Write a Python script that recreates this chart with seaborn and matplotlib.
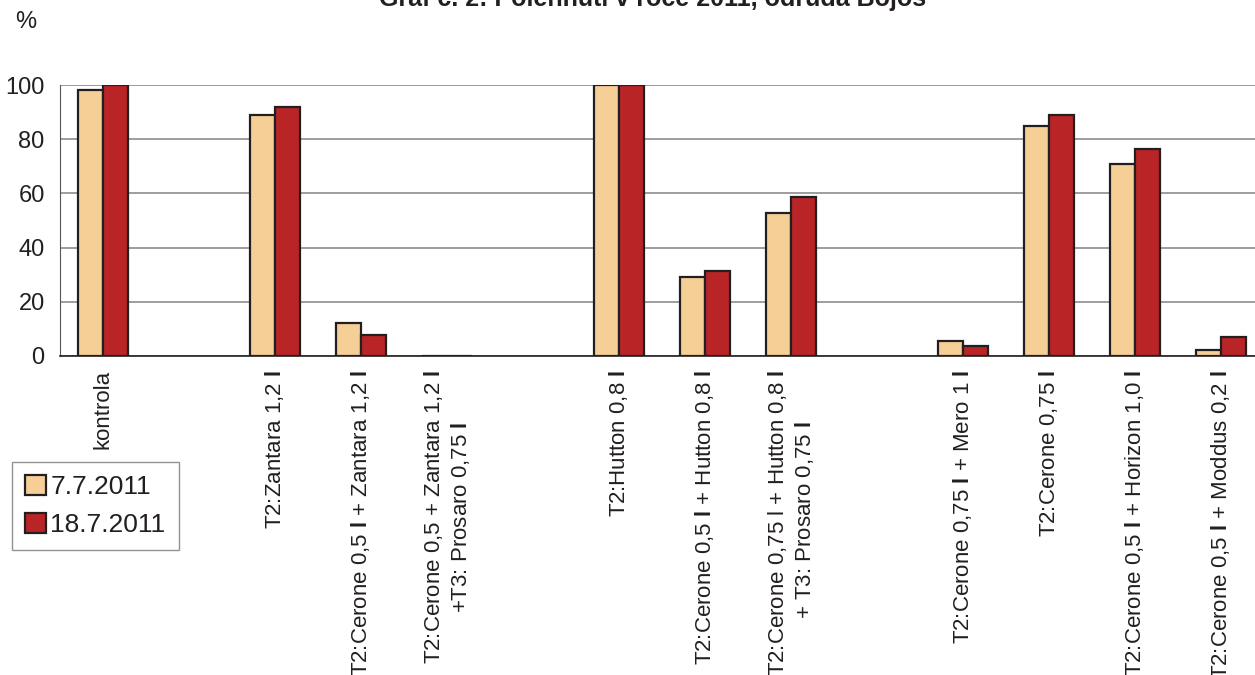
import pandas as pd
import numpy as np
import matplotlib
matplotlib.use("Agg")
import matplotlib.pyplot as plt
import seaborn as sns

# categories (empty slots kept as gaps, as in the original chart)
categories = ["c01", "c02", "c03", "c04", "c05", "c06", "c07",
              "c08", "c09", "c10", "c11", "c12", "c13", "c14"]
L = r"$\mathbf{l}$"
labels = [
    "kontrola",
    "",
    "T2:Zantara 1,2 " + L,
    "T2:Cerone 0,5 " + L + " + Zantara 1,2 " + L,
    "T2:Cerone 0,5 + Zantara 1,2 " + L + "\n+T3: Prosaro 0,75 " + L,
    "",
    "T2:Hutton 0,8 " + L,
    "T2:Cerone 0,5 " + L + " + Hutton 0,8 " + L,
    "T2:Cerone 0,75 l + Hutton 0,8 " + L + "\n + T3: Prosaro 0,75 " + L,
    "",
    "T2:Cerone 0,75 " + L + " + Mero 1 " + L,
    "T2:Cerone 0,75 " + L,
    "T2:Cerone 0,5 " + L + " + Horizon 1,0 " + L,
    "T2:Cerone 0,5 " + L + " + Moddus 0,2 " + L,
]
series = ["7.7.2011", "18.7.2011"]
v_0707 = [98, np.nan, 89, 12.2, 0, np.nan, 100, 29.2, 52.8, np.nan, 5.5, 85, 71, 2.3]
v_1807 = [100, np.nan, 91.8, 7.7, 0, np.nan, 100, 31.4, 58.8, np.nan, 3.8, 88.8, 76.5, 7.0]

df = pd.DataFrame({
    "kat": categories * 2,
    "datum": [series[0]] * 14 + [series[1]] * 14,
    "hodnota": v_0707 + v_1807,
})

sns.set_style("white")
plt.rcParams["font.family"] = ["Liberation Sans", "DejaVu Sans"]
plt.rcParams["mathtext.fontset"] = "custom"
plt.rcParams["mathtext.rm"] = "Liberation Sans"
plt.rcParams["mathtext.bf"] = "Liberation Sans:bold"

fig = plt.figure(figsize=(12.55, 6.75), dpi=100)
ax = fig.add_axes([60 / 1255, 319 / 675, 1204 / 1255, 271 / 675])

sns.barplot(data=df, x="kat", y="hodnota", hue="datum", order=categories,
            palette=["#f6cf96", "#b92426"], saturation=1, width=0.58, gap=0,
            edgecolor="#231f20", linewidth=1.6, ax=ax, legend=True)

ax.set_xlim(-0.5, 13.5)
ax.set_ylim(0, 100)
ax.set_yticks(np.arange(0, 101, 20))
ax.yaxis.grid(True, color="#8c8c8c", linewidth=1.2)
ax.set_axisbelow(True)
ax.set_xlabel("")
ax.set_ylabel("")

ax.set_xticks(np.arange(14))
ax.set_xticklabels(labels, rotation=90, ha="center", va="top",
                   multialignment="center", fontsize=16, color="#231f20")
ax.tick_params(axis="x", which="major", length=0, pad=10)
ax.set_xticks(np.arange(-0.5, 14, 1), minor=True)
ax.tick_params(axis="x", which="minor", length=8, width=1, color="#555555",
               direction="out")
ax.tick_params(axis="y", length=7, width=1, color="#555555", direction="out",
               labelsize=17, labelcolor="#231f20", pad=4)

for s in ["top", "right"]:
    ax.spines[s].set_visible(False)
ax.spines["left"].set_color("#555555")
ax.spines["bottom"].set_color("#231f20")
ax.spines["bottom"].set_linewidth(1.2)

ax.get_legend().remove()
handles, lbls = ax.get_legend_handles_labels()
leg = fig.legend(handles, lbls, loc="upper left",
                 bbox_to_anchor=(12 / 1255, 1 - 462 / 675), borderaxespad=0,
                 fontsize=19, frameon=True, fancybox=False, edgecolor="#777777",
                 handlelength=0.8, handleheight=0.8, handletextpad=0.15,
                 labelspacing=0.5, borderpad=0.5)
leg.get_frame().set_linewidth(1.0)
for t in leg.get_texts():
    t.set_color("#231f20")

fig.text(0.012, 1 - 22 / 675, "%", fontsize=17, va="center", ha="left",
         color="#231f20")
fig.text(0.52, 1 - 6 / 675, "Graf č. 2: Poléhnutí v roce 2011, odrůda Bojos",
         fontsize=18, fontweight="bold", ha="center", va="baseline",
         color="#231f20")

fig.savefig("out.png", dpi=100)
